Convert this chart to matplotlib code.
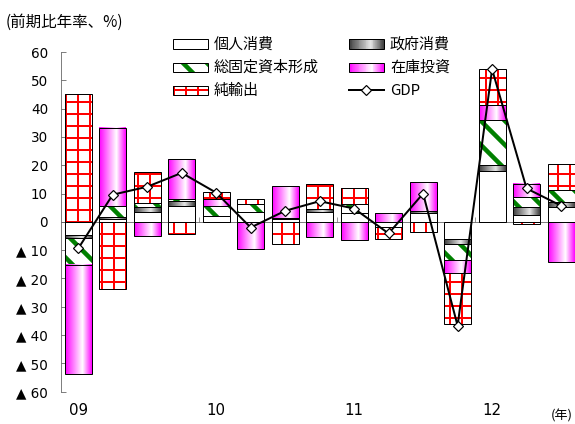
import numpy as np
import matplotlib
matplotlib.use('Agg')
import matplotlib.pyplot as plt
from matplotlib.colors import LinearSegmentedColormap
from matplotlib.patches import Rectangle
from matplotlib.lines import Line2D
from matplotlib.transforms import blended_transform_factory

plt.rcParams['font.family'] = ['Noto Sans CJK JP', 'DejaVu Sans']

# quarters 2009Q1 .. 2012Q3, contributions (%pt, annualised q/q)
year_labels = ['09', '10', '11', '12']
year_positions = [0, 4, 8, 12]
series_names = ['個人消費', '政府消費', '総固定資本形成', '在庫投資', '純輸出']
private_cons = [-4.5, 1.1, 3.5, 5.5, 2.0, 3.4, 1.0, 3.4, 3.0, -1.8, 3.2, -6.0, 17.9, 2.5, 5.3]
gov_cons = [-1.2, 0.6, 1.6, 1.9, 0.2, 0.2, 0.4, 1.3, 0.0, 0.0, 0.8, -1.8, 2.1, 2.6, 1.7]
fixed_inv = [-9.5, 4.0, 1.7, 0.8, 3.5, 2.8, 0.0, 0.0, 3.2, 0.0, 0.0, -5.7, 15.9, 3.6, 4.4]
inventory = [-38.7, 27.6, -5.1, 14.1, 2.5, -9.7, 11.1, -5.2, -6.5, 3.0, 10.0, -4.5, 5.5, 4.7, -14.1]
net_exports = [45.0, -23.8, 10.8, -4.4, 2.3, 1.7, -8.0, 8.8, 5.9, -4.4, -3.7, -18.2, 12.7, -0.8, 8.9]
gdp = [-9.4, 9.6, 12.4, 17.3, 10.3, -2.0, 3.9, 7.3, 4.7, -4.1, 10.0, -36.7, 53.9, 11.8, 5.7]

GREEN = '#008000'
gray_cmap = LinearSegmentedColormap.from_list('g', [(0, '#3c3c3c'), (0.62, '#e6e6e6'), (1, '#3c3c3c')])
pink_cmap = LinearSegmentedColormap.from_list('p', [(0, '#ff00ff'), (0.65, '#ffffff'), (1, '#ff00ff')])
styles = [
    dict(kind='plain'),
    dict(kind='grad', cmap=gray_cmap),
    dict(kind='hatch', hatch='\\', color=GREEN, hlw=4.5),
    dict(kind='grad', cmap=pink_cmap),
    dict(kind='hatch', hatch='+', color='#ff0000', hlw=2.0),
]


def set_hatch_lw(patch, lw):
    if hasattr(patch, 'set_hatch_linewidth'):
        patch.set_hatch_linewidth(lw)


class BoxHandler:
    def __init__(self, style):
        self.style = style

    def legend_artist(self, legend, orig_handle, fontsize, handlebox):
        x0, y0 = handlebox.xdescent, handlebox.ydescent
        w, h = handlebox.width, handlebox.height
        tr = handlebox.get_transform()
        st = self.style
        if st['kind'] == 'grad':
            n = 40
            for i in range(n):
                handlebox.add_artist(Rectangle((x0 + w * i / n, y0), w / n * 1.1, h,
                                               facecolor=st['cmap']((i + 0.5) / n),
                                               edgecolor='none', transform=tr))
        elif st['kind'] == 'hatch':
            plt.rcParams['hatch.linewidth'] = st['hlw']
            p = Rectangle((x0, y0), w, h, facecolor='white', edgecolor=st['color'],
                          hatch=st['hatch'], lw=0, transform=tr)
            set_hatch_lw(p, st['hlw'])
            handlebox.add_artist(p)
        border = Rectangle((x0, y0), w, h, facecolor='white' if st['kind'] == 'plain' else 'none',
                           edgecolor='black', lw=1, transform=tr)
        handlebox.add_artist(border)
        return border


W, H = 575, 424
fig = plt.figure(figsize=(W / 72, H / 72), dpi=72)
ax = fig.add_axes([61 / W, (H - 391.7) / H, (578.3 - 61) / W, 339.7 / H])

x = np.arange(len(gdp))
width = 0.78
pos_base = np.zeros(len(x))
neg_base = np.zeros(len(x))
grad = np.linspace(0, 1, 256).reshape(1, -1)

for vals, st in zip([private_cons, gov_cons, fixed_inv, inventory, net_exports], styles):
    vals = np.array(vals)
    bottoms = np.where(vals >= 0, pos_base, neg_base)
    pos_base += np.clip(vals, 0, None)
    neg_base += np.clip(vals, None, 0)
    m = vals != 0
    if st['kind'] == 'grad':
        for xi, b, v in zip(x[m], bottoms[m], vals[m]):
            ax.imshow(grad, cmap=st['cmap'], extent=[xi - width / 2, xi + width / 2, b, b + v],
                      aspect='auto', interpolation='bilinear', zorder=2)
    elif st['kind'] == 'hatch':
        plt.rcParams['hatch.linewidth'] = st['hlw']
        bars = ax.bar(x[m], vals[m], width, bottom=bottoms[m], color='white',
                      edgecolor=st['color'], hatch=st['hatch'], lw=0, zorder=2)
        for p in bars:
            set_hatch_lw(p, st['hlw'])
    ax.bar(x[m], vals[m], width, bottom=bottoms[m],
           facecolor='white' if st['kind'] == 'plain' else 'none',
           edgecolor='black', lw=1, zorder=3)

ax.plot(x, gdp, color='black', lw=2, marker='D', ms=7.5, mfc='white', mec='black', mew=1.2, zorder=5)

ax.set_xlim(-0.5, 14.5)
ax.set_ylim(-60, 60)
ax.set_yticks(np.arange(-60, 61, 10))
ax.set_yticklabels([('▲ %d' % -v) if v < 0 else '%d' % v for v in range(-60, 61, 10)],
                   family='DejaVu Sans', fontsize=13.5)
ax.set_xticks([3.5, 7.5, 11.5])
ax.set_xticklabels([])
ax.tick_params(axis='y', direction='in', length=5, pad=13, color='#606060')
ax.tick_params(axis='x', direction='in', length=5, color='#808080')
for s in ['top', 'right']:
    ax.spines[s].set_visible(False)
ax.spines['bottom'].set_position(('data', 0))
ax.spines['bottom'].set_color('#606060')
ax.spines['left'].set_color('#606060')

tr = blended_transform_factory(ax.transData, ax.transAxes)
for pos, lab in zip(year_positions, year_labels):
    ax.text(pos, -0.054, lab, transform=tr, ha='center', va='center', fontsize=15, family='DejaVu Sans')

fig.text(6 / W, 1 - 22 / H, '(前期比年率、%)', fontsize=15.5, va='center', ha='left')
fig.text(573 / W, 1 - 416 / H, '(年)', fontsize=13, va='center', ha='right')

handles = [Rectangle((0, 0), 1, 1) for _ in range(5)]
gdp_handle = Line2D([], [], color='black', lw=2, marker='D', ms=7.5, mfc='white', mec='black', mew=1.2)
order = [0, 2, 4, 1, 3]
leg_handles = [handles[i] for i in order] + [gdp_handle]
leg_labels = [series_names[i] for i in order] + ['GDP']
handler_map = {handles[i]: BoxHandler(styles[i]) for i in range(5)}
fig.legend(leg_handles, leg_labels, handler_map=handler_map, ncol=2, loc='upper left',
           bbox_to_anchor=(173 / W, 1 - 37 / H), bbox_transform=fig.transFigure,
           frameon=False, fontsize=15, handlelength=2.33, handleheight=0.6,
           handletextpad=0.4, columnspacing=2.0, labelspacing=0.6, borderpad=0,
           borderaxespad=0, numpoints=1)

fig.savefig('out.png', dpi=72)
